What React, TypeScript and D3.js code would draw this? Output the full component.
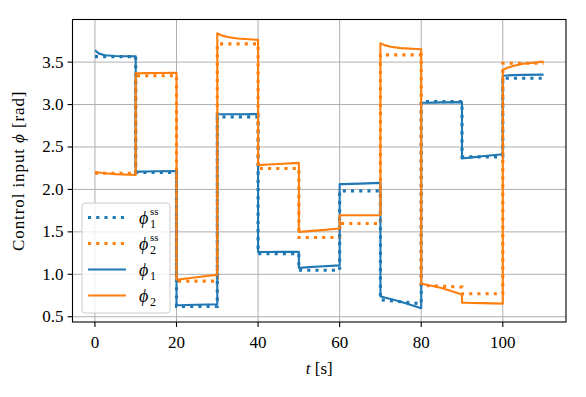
import React from "react";
import * as d3 from "d3";

// segment start times and sample offsets (s)
const segStarts = [0, 10, 20, 30, 40, 50, 60, 70, 80, 90, 100];
const solidOffsets = [0, 1, 2.5, 5, 10];
const ssOffsets = [0, 10];

// phi1 (solid blue) per segment at solidOffsets
const phi1Solid = [
  [3.64, 3.6, 3.58, 3.572, 3.568],
  [2.21, 2.21, 2.212, 2.214, 2.216],
  [0.635, 0.636, 0.638, 0.641, 0.648],
  [2.885, 2.885, 2.885, 2.886, 2.887],
  [1.262, 1.262, 1.263, 1.264, 1.266],
  [1.076, 1.079, 1.084, 1.091, 1.105],
  [2.062, 2.063, 2.065, 2.068, 2.077],
  [0.74, 0.727, 0.708, 0.676, 0.6],
  [3.022, 3.022, 3.023, 3.025, 3.028],
  [2.365, 2.37, 2.378, 2.39, 2.415],
  [3.34, 3.343, 3.347, 3.35, 3.352],
];

// phi2 (solid orange)
const phi2Solid = [
  [2.205, 2.2, 2.19, 2.18, 2.17],
  [3.369, 3.369, 3.37, 3.371, 3.373],
  [0.937, 0.942, 0.951, 0.965, 0.996],
  [3.84, 3.815, 3.795, 3.778, 3.762],
  [2.286, 2.289, 2.293, 2.3, 2.313],
  [1.499, 1.503, 1.509, 1.518, 1.539],
  [1.694, 1.695, 1.695, 1.696, 1.697],
  [3.723, 3.7, 3.68, 3.665, 3.652],
  [0.89, 0.88, 0.864, 0.838, 0.763],
  [0.665, 0.664, 0.662, 0.66, 0.655],
  [3.408, 3.43, 3.455, 3.48, 3.506],
];

// steady-state values (dotted) at ssOffsets
const phi1SS = [
  [3.565, 3.565],
  [2.2, 2.2],
  [0.622, 0.622],
  [2.855, 2.855],
  [1.244, 1.244],
  [1.047, 1.047],
  [1.983, 1.983],
  [0.7, 0.653],
  [3.034, 3.034],
  [2.384, 2.384],
  [3.31, 3.31],
];

const phi2SS = [
  [2.19, 2.19],
  [3.34, 3.34],
  [0.92, 0.92],
  [3.715, 3.715],
  [2.247, 2.247],
  [1.433, 1.433],
  [1.598, 1.598],
  [3.585, 3.585],
  [0.87, 0.85],
  [0.771, 0.771],
  [3.487, 3.487],
];

const xTicks = [0, 20, 40, 60, 80, 100];
const yTicks = [0.5, 1.0, 1.5, 2.0, 2.5, 3.0, 3.5];

const C1 = "#1f77b4";
const C2 = "#ff7f0e";

function buildSeries(segs: number[][], offsets: number[]): [number, number][] {
  const pts: [number, number][] = [];
  segs.forEach((vals, i) => {
    vals.forEach((v, j) => pts.push([segStarts[i] + offsets[j], v]));
  });
  return pts;
}

export default function App() {
  const W = 586, H = 397;
  const m = { left: 72.5, right: 566, top: 19.5, bottom: 322 };
  const x = d3.scaleLinear().domain([-5.5, 115.5]).range([m.left, m.right]);
  const y = d3.scaleLinear().domain([0.438, 4.002]).range([m.bottom, m.top]);
  const line = d3
    .line<[number, number]>()
    .x((d) => x(d[0]))
    .y((d) => y(d[1]));

  const s1 = buildSeries(phi1SS, ssOffsets);
  const s2 = buildSeries(phi2SS, ssOffsets);
  const p1 = buildSeries(phi1Solid, solidOffsets);
  const p2 = buildSeries(phi2Solid, solidOffsets);

  const font = "Liberation Serif, DejaVu Serif, serif";
  const fs = 17;
  const dotW = 3.1;
  const dash = `${dotW} ${dotW * 1.65}`;
  const solidW = 2.1;

  const legend = { x: 82, y: 203, w: 88, h: 110 };
  const rows = [
    { color: C1, dashed: true, sub: "1", sup: "ss" },
    { color: C2, dashed: true, sub: "2", sup: "ss" },
    { color: C1, dashed: false, sub: "1", sup: "" },
    { color: C2, dashed: false, sub: "2", sup: "" },
  ];
  const rowY = (i: number) => legend.y + 14.5 + i * 26;

  return (
    <svg
      width={W}
      height={H}
      style={{ position: "absolute", left: 0, top: 0, background: "#fff", fontFamily: font }}
    >
      <defs>
        <clipPath id="plotclip">
          <rect x={m.left} y={m.top} width={m.right - m.left} height={m.bottom - m.top} />
        </clipPath>
      </defs>
      <rect x={0} y={0} width={W} height={H} fill="#fff" />
      {/* grid */}
      <g stroke="#b0b0b0" strokeWidth={1}>
        {xTicks.map((t) => (
          <line key={"gx" + t} x1={x(t)} x2={x(t)} y1={m.top} y2={m.bottom} />
        ))}
        {yTicks.map((t) => (
          <line key={"gy" + t} x1={m.left} x2={m.right} y1={y(t)} y2={y(t)} />
        ))}
      </g>
      {/* series */}
      <g clipPath="url(#plotclip)" fill="none">
        <path d={line(s1) || ""} stroke={C1} strokeWidth={dotW} strokeDasharray={dash} />
        <path d={line(s2) || ""} stroke={C2} strokeWidth={dotW} strokeDasharray={dash} />
        <path d={line(p1) || ""} stroke={C1} strokeWidth={solidW} strokeLinejoin="round" />
        <path d={line(p2) || ""} stroke={C2} strokeWidth={solidW} strokeLinejoin="round" />
      </g>
      {/* frame */}
      <rect
        x={m.left}
        y={m.top}
        width={m.right - m.left}
        height={m.bottom - m.top}
        fill="none"
        stroke="#000"
        strokeWidth={1.1}
      />
      {/* ticks */}
      <g stroke="#000" strokeWidth={1.1}>
        {xTicks.map((t) => (
          <line key={"tx" + t} x1={x(t)} x2={x(t)} y1={m.bottom} y2={m.bottom + 4.9} />
        ))}
        {yTicks.map((t) => (
          <line key={"ty" + t} x1={m.left - 4.9} x2={m.left} y1={y(t)} y2={y(t)} />
        ))}
      </g>
      <g fontSize={fs} fill="#000">
        {xTicks.map((t) => (
          <text key={"lx" + t} x={x(t)} y={m.bottom + 25.5} textAnchor="middle">
            {t}
          </text>
        ))}
        {yTicks.map((t) => (
          <text key={"ly" + t} x={m.left - 9} y={y(t) + 5.5} textAnchor="end">
            {t.toFixed(1)}
          </text>
        ))}
      </g>
      {/* axis labels */}
      <text x={(m.left + m.right) / 2} y={374} textAnchor="middle" fontSize={fs}>
        <tspan fontStyle="italic">t</tspan> [s]
      </text>
      <text
        transform={`translate(24,${(m.top + m.bottom) / 2}) rotate(-90)`}
        textAnchor="middle"
        fontSize={fs}
        letterSpacing={0.9}
      >
        Control input <tspan fontStyle="italic">ϕ</tspan> [rad]
      </text>
      {/* legend */}
      <rect
        x={legend.x}
        y={legend.y}
        width={legend.w}
        height={legend.h}
        rx={3}
        fill="#fff"
        fillOpacity={0.8}
        stroke="#cccccc"
        strokeWidth={1}
      />
      {rows.map((r, i) => (
        <g key={"lg" + i}>
          <line
            x1={legend.x + 6}
            x2={legend.x + 44}
            y1={rowY(i)}
            y2={rowY(i)}
            stroke={r.color}
            strokeWidth={r.dashed ? dotW : solidW}
            strokeDasharray={r.dashed ? dash : undefined}
          />
          <text x={legend.x + 57} y={rowY(i) + 6} fontSize={fs + 1} fontStyle="italic">
            ϕ
          </text>
          <text x={legend.x + 68} y={rowY(i) + 10} fontSize={12}>
            {r.sub}
          </text>
          {r.sup && (
            <text x={legend.x + 68} y={rowY(i) - 3} fontSize={11}>
              {r.sup}
            </text>
          )}
        </g>
      ))}
    </svg>
  );
}
